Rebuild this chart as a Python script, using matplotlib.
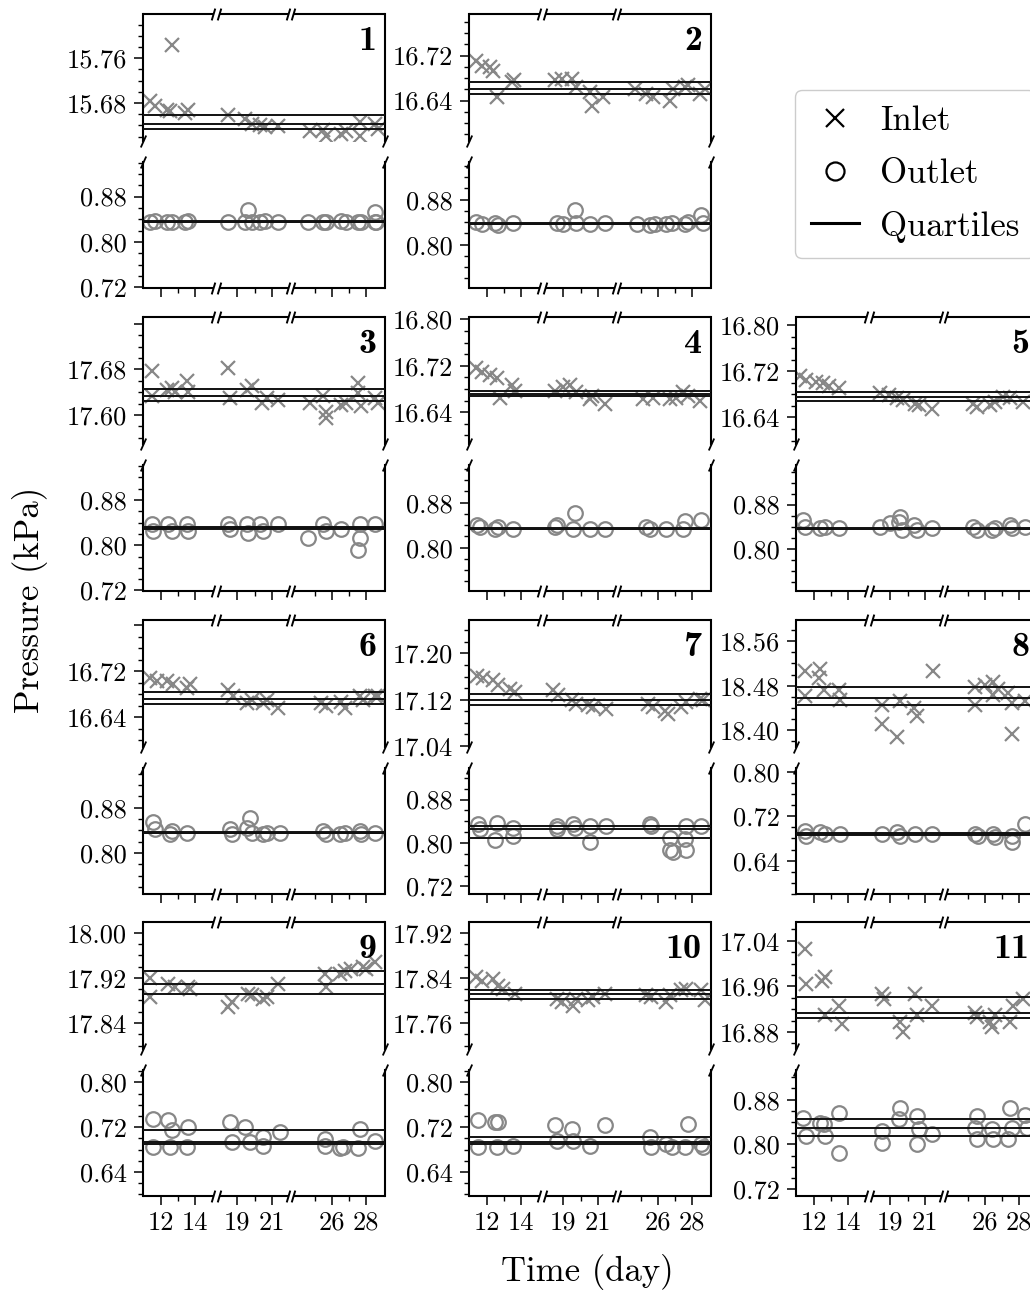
import numpy as np
import matplotlib
matplotlib.use("Agg")
import matplotlib.pyplot as plt
from matplotlib.lines import Line2D
from matplotlib.ticker import MultipleLocator, FixedLocator, FuncFormatter

plt.rcParams["font.family"] = "cmr10"
plt.rcParams["axes.formatter.use_mathtext"] = True
plt.rcParams["mathtext.fontset"] = "cm"

# ---------------------------------------------------------------------------
# Pressure readings (kPa) per sensor: day of reading and value, inlet and outlet
# ---------------------------------------------------------------------------
in_day_1 = [11.36, 11.65, 12.33, 12.52, 12.62, 13.39, 13.58, 18.47, 19.44, 19.83, 20.31, 20.6, 21.37,
            24.72, 25.49, 25.69, 26.56, 26.85, 27.62, 27.62, 28.5, 28.7]
in_kpa_1 = [15.683, 15.674, 15.668, 15.665, 15.784, 15.662, 15.668, 15.659, 15.652, 15.643, 15.641, 15.637,
            15.639, 15.630, 15.631, 15.621, 15.624, 15.630, 15.646, 15.621, 15.643, 15.634]
out_day_1 = [11.36, 11.65, 12.33, 12.62, 13.39, 13.58, 18.47, 19.44, 19.63, 19.83, 20.31, 20.6, 21.37,
             24.62, 25.49, 25.69, 26.56, 26.85, 27.52, 27.72, 28.5, 28.5, 28.6]
out_kpa_1 = [0.836, 0.837, 0.836, 0.835, 0.836, 0.837, 0.836, 0.836, 0.856, 0.835, 0.836, 0.837, 0.836,
             0.836, 0.835, 0.836, 0.837, 0.836, 0.836, 0.835, 0.836, 0.853, 0.836]

in_day_2 = [11.36, 11.7, 12.18, 12.37, 12.56, 13.43, 13.56, 18.51, 18.9, 19.48, 19.76, 20.54, 20.64, 21.31,
            24.66, 25.34, 25.73, 26.7, 26.89, 27.56, 27.76, 28.44, 28.73]
in_kpa_2 = [16.711, 16.702, 16.699, 16.693, 16.646, 16.673, 16.676, 16.676, 16.679, 16.679, 16.664, 16.655,
            16.631, 16.646, 16.661, 16.652, 16.646, 16.640, 16.661, 16.664, 16.667, 16.652, 16.661]
out_day_2 = [11.36, 11.7, 12.47, 12.66, 13.53, 18.6, 19.0, 19.67, 19.76, 20.54, 21.41, 24.76, 25.53, 25.83,
             26.5, 26.8, 27.56, 27.76, 28.54, 28.63]
out_kpa_2 = [0.840, 0.836, 0.838, 0.835, 0.838, 0.839, 0.836, 0.862, 0.838, 0.837, 0.838, 0.836, 0.835,
             0.837, 0.836, 0.838, 0.837, 0.840, 0.853, 0.838]

in_day_3 = [11.46, 11.46, 12.33, 12.62, 12.82, 13.49, 13.58, 18.47, 18.56, 19.54, 19.83, 20.41, 20.7, 21.37,
            24.72, 25.49, 25.69, 25.69, 26.56, 26.85, 27.52, 27.52, 27.72, 28.5, 28.7]
in_kpa_3 = [17.677, 17.633, 17.644, 17.647, 17.641, 17.659, 17.641, 17.683, 17.630, 17.644, 17.650, 17.621,
            17.630, 17.627, 17.621, 17.633, 17.606, 17.594, 17.618, 17.621, 17.656, 17.638, 17.615, 17.630,
            17.621]
out_day_3 = [11.46, 11.55, 12.43, 12.62, 13.49, 13.58, 18.47, 18.56, 19.54, 19.63, 20.31, 20.5, 21.37,
             24.62, 25.49, 25.69, 26.56, 27.62, 27.62, 27.52, 28.5]
out_kpa_3 = [0.838, 0.825, 0.838, 0.825, 0.838, 0.825, 0.838, 0.828, 0.838, 0.822, 0.838, 0.825, 0.838,
             0.813, 0.838, 0.826, 0.828, 0.838, 0.812, 0.792, 0.838]

in_day_4 = [11.36, 11.7, 12.18, 12.56, 12.76, 13.43, 13.62, 18.51, 19.0, 19.38, 19.76, 20.54, 20.64, 21.41,
            25.14, 25.73, 26.7, 27.08, 27.46, 27.76, 28.44]
in_kpa_4 = [16.716, 16.710, 16.704, 16.698, 16.665, 16.686, 16.677, 16.677, 16.683, 16.686, 16.674, 16.663,
            16.668, 16.654, 16.663, 16.665, 16.663, 16.665, 16.674, 16.668, 16.660]
out_day_4 = [11.44, 11.6, 12.47, 12.66, 13.53, 18.51, 18.6, 19.57, 19.67, 20.54, 21.41, 25.34, 25.53, 26.5,
             27.46, 27.56, 28.54]
out_kpa_4 = [0.841, 0.836, 0.833, 0.836, 0.833, 0.836, 0.841, 0.833, 0.861, 0.833, 0.833, 0.836, 0.833,
             0.833, 0.833, 0.847, 0.850]

in_day_5 = [11.19, 11.56, 12.14, 12.52, 12.86, 13.43, 18.41, 18.9, 19.38, 19.76, 20.45, 20.64, 21.41,
            25.34, 25.53, 26.3, 26.6, 27.08, 27.46, 28.24]
in_kpa_5 = [16.711, 16.705, 16.702, 16.699, 16.694, 16.691, 16.682, 16.679, 16.673, 16.670, 16.664, 16.661,
            16.655, 16.664, 16.658, 16.661, 16.667, 16.676, 16.673, 16.667]
out_day_5 = [11.36, 11.46, 12.37, 12.66, 13.43, 18.41, 19.0, 19.48, 19.57, 19.67, 20.35, 20.54, 21.41,
             25.34, 25.53, 26.4, 26.6, 27.46, 27.56, 28.34]
out_kpa_5 = [0.852, 0.840, 0.837, 0.840, 0.837, 0.840, 0.846, 0.849, 0.858, 0.834, 0.843, 0.834, 0.837,
             0.840, 0.834, 0.834, 0.837, 0.843, 0.837, 0.840]

in_day_6 = [11.36, 11.75, 12.33, 12.72, 13.49, 13.68, 18.47, 18.76, 19.54, 19.83, 20.5, 20.7, 21.37,
            25.4, 25.69, 26.56, 26.75, 27.62, 27.82, 28.5, 28.7]
in_kpa_6 = [16.708, 16.702, 16.702, 16.697, 16.691, 16.697, 16.688, 16.676, 16.665, 16.670, 16.665, 16.670,
            16.656, 16.665, 16.659, 16.667, 16.656, 16.676, 16.670, 16.676, 16.676]
out_day_6 = [11.55, 11.65, 12.52, 12.62, 13.49, 18.56, 18.66, 19.54, 19.73, 19.83, 20.5, 20.7, 21.47,
             25.49, 25.69, 26.46, 26.75, 27.62, 27.72, 28.5]
out_kpa_6 = [0.854, 0.842, 0.833, 0.839, 0.836, 0.842, 0.833, 0.845, 0.862, 0.836, 0.833, 0.836, 0.836,
             0.839, 0.833, 0.833, 0.836, 0.839, 0.833, 0.836]

in_day_7 = [11.4, 11.79, 12.37, 12.66, 13.34, 13.62, 18.41, 18.7, 19.48, 19.76, 20.45, 20.74, 21.51,
            25.43, 25.73, 26.4, 26.6, 27.37, 27.66, 28.44, 28.63]
in_kpa_7 = [17.161, 17.157, 17.154, 17.145, 17.139, 17.133, 17.136, 17.128, 17.119, 17.113, 17.110, 17.107,
            17.104, 17.113, 17.107, 17.101, 17.096, 17.107, 17.116, 17.122, 17.119]
out_day_7 = [11.5, 11.6, 12.56, 12.47, 13.53, 13.53, 18.6, 18.6, 19.57, 19.67, 20.54, 20.54, 21.51,
             25.53, 25.63, 26.7, 26.7, 26.89, 27.66, 27.66, 27.56, 28.54]
out_kpa_7 = [0.834, 0.825, 0.837, 0.805, 0.828, 0.813, 0.831, 0.825, 0.834, 0.828, 0.831, 0.802, 0.831,
             0.834, 0.831, 0.810, 0.787, 0.784, 0.831, 0.787, 0.808, 0.831]

in_day_8 = [11.46, 11.46, 12.37, 12.27, 12.56, 13.43, 13.53, 18.51, 18.51, 19.38, 19.57, 20.35, 20.54,
            21.51, 25.43, 25.43, 26.01, 26.5, 26.5, 26.79, 27.37, 27.56, 27.56, 28.34]
in_kpa_8 = [18.507, 18.461, 18.510, 18.493, 18.472, 18.472, 18.455, 18.446, 18.411, 18.388, 18.452, 18.440,
            18.426, 18.507, 18.478, 18.446, 18.481, 18.487, 18.464, 18.475, 18.467, 18.449, 18.394, 18.452]
out_day_8 = [11.46, 11.56, 12.37, 12.66, 13.53, 18.51, 19.38, 19.57, 20.45, 21.41, 25.43, 25.63, 26.5,
             26.6, 27.56, 27.56, 28.34]
out_kpa_8 = [0.694, 0.685, 0.691, 0.688, 0.688, 0.688, 0.691, 0.685, 0.688, 0.688, 0.688, 0.685, 0.688,
             0.682, 0.685, 0.674, 0.706]

in_day_9 = [11.36, 11.36, 12.43, 12.82, 13.58, 13.68, 18.47, 18.66, 19.63, 19.83, 20.5, 20.7, 21.37,
            25.59, 25.69, 26.46, 26.75, 27.14, 27.82, 28.01, 28.5]
in_kpa_9 = [17.919, 17.886, 17.909, 17.904, 17.904, 17.901, 17.868, 17.877, 17.892, 17.889, 17.883, 17.886,
            17.909, 17.927, 17.904, 17.927, 17.933, 17.936, 17.939, 17.936, 17.948]
out_day_9 = [11.55, 11.55, 12.43, 12.62, 12.52, 13.58, 13.49, 18.56, 18.66, 19.44, 19.73, 20.5, 20.5,
             21.47, 25.59, 25.59, 26.46, 26.66, 27.62, 27.52, 28.5]
out_kpa_9 = [0.735, 0.685, 0.732, 0.714, 0.685, 0.720, 0.685, 0.729, 0.693, 0.720, 0.693, 0.702, 0.687,
             0.711, 0.699, 0.687, 0.682, 0.685, 0.717, 0.682, 0.696]

in_day_10 = [11.36, 11.7, 12.37, 12.66, 12.95, 13.62, 18.6, 18.9, 19.57, 19.76, 20.45, 20.74, 21.41,
             25.34, 25.63, 26.5, 26.7, 27.37, 27.66, 28.54, 28.73]
in_kpa_10 = [17.841, 17.835, 17.838, 17.826, 17.821, 17.812, 17.803, 17.797, 17.791, 17.803, 17.800, 17.806,
             17.812, 17.809, 17.806, 17.797, 17.809, 17.818, 17.821, 17.818, 17.800]
out_day_10 = [11.5, 11.5, 12.47, 12.66, 12.56, 13.53, 18.51, 18.6, 19.48, 19.57, 20.54, 21.41, 25.53,
              25.63, 26.5, 26.8, 27.76, 27.56, 28.54, 28.63]
out_kpa_10 = [0.733, 0.685, 0.729, 0.729, 0.685, 0.687, 0.723, 0.696, 0.717, 0.696, 0.687, 0.723, 0.702,
              0.685, 0.690, 0.685, 0.726, 0.685, 0.690, 0.685]

in_day_11 = [11.46, 11.56, 12.47, 12.66, 12.66, 13.43, 13.62, 18.51, 18.6, 19.57, 19.76, 20.45, 20.54,
             21.41, 25.43, 25.53, 26.3, 26.4, 26.6, 27.46, 27.66, 28.24]
in_kpa_11 = [17.025, 16.964, 16.970, 16.976, 16.909, 16.926, 16.894, 16.947, 16.938, 16.897, 16.879, 16.947,
             16.909, 16.926, 16.914, 16.906, 16.897, 16.888, 16.909, 16.897, 16.926, 16.938]
out_day_11 = [11.36, 11.56, 12.37, 12.56, 12.66, 13.43, 13.43, 18.51, 18.51, 19.57, 19.48, 20.54, 20.64,
              20.54, 21.41, 25.53, 25.43, 25.53, 26.4, 26.5, 27.46, 27.56, 27.37, 28.34, 28.44]
out_kpa_11 = [0.847, 0.815, 0.839, 0.836, 0.815, 0.856, 0.785, 0.824, 0.803, 0.865, 0.845, 0.850, 0.827,
              0.800, 0.818, 0.850, 0.830, 0.809, 0.827, 0.809, 0.865, 0.830, 0.809, 0.853, 0.830]

# Quartiles (Q1, median, Q3) of each sensor's readings
in_quart = [(15.634, 15.643, 15.659), (16.651, 16.660, 16.673), (17.624, 17.634, 17.646),
            (16.667, 16.671, 16.676), (16.669, 16.675, 16.684), (16.663, 16.672, 16.684),
            (17.110, 17.119, 17.129), (18.445, 18.458, 18.477), (17.892, 17.909, 17.933),
            (17.803, 17.812, 17.819), (16.904, 16.914, 16.941)]
out_quart = [(0.835, 0.836, 0.837), (0.836, 0.837, 0.839), (0.829, 0.831, 0.833),
             (0.833, 0.834, 0.835), (0.835, 0.8365, 0.838), (0.835, 0.836, 0.837),
             (0.810, 0.825, 0.831), (0.687, 0.688, 0.689), (0.689, 0.694, 0.715),
             (0.690, 0.693, 0.703), (0.815, 0.830, 0.845)]

# Axis ranges and labelled pressure ticks for each sensor
in_ylim = [(15.612, 15.839), (16.568, 16.794), (17.549, 17.772), (16.585, 16.804), (16.594, 16.814),
           (16.588, 16.809), (17.038, 17.258), (18.370, 18.598), (17.794, 18.019), (17.714, 17.939),
           (16.850, 17.073)]
out_ylim = [(0.719, 0.941), (0.723, 0.947), (0.719, 0.942), (0.723, 0.947), (0.723, 0.952),
            (0.728, 0.950), (0.706, 0.938), (0.580, 0.807), (0.597, 0.822), (0.597, 0.822),
            (0.708, 0.933)]
in_labels = [(15.68, 15.76), (16.64, 16.72), (17.60, 17.68), (16.64, 16.72, 16.80), (16.64, 16.72, 16.80),
             (16.64, 16.72), (17.04, 17.12, 17.20), (18.40, 18.48, 18.56), (17.84, 17.92, 18.00),
             (17.76, 17.84, 17.92), (16.88, 16.96, 17.04)]
out_labels = [(0.72, 0.80, 0.88), (0.80, 0.88), (0.72, 0.80, 0.88), (0.80, 0.88), (0.80, 0.88),
              (0.80, 0.88), (0.72, 0.80, 0.88), (0.64, 0.72, 0.80), (0.64, 0.72, 0.80),
              (0.64, 0.72, 0.80), (0.72, 0.80, 0.88)]

# Measurement campaigns (day ranges shown) and day ticks
segments = [(10.95, 15.2), (17.75, 22.1), (23.6, 29.1)]
day_ticks = [12, 14, 19, 21, 26, 28]
day_minor = [13, 20, 25, 27]

panel_names = ["1", "2", "3", "4", "5", "6", "7", "8", "9", "10", "11"]

# ---------------------------------------------------------------------------
W, H = 1030, 1292
fig = plt.figure(figsize=(W / 100, H / 100), dpi=100)

GREY = "#878787"
SPINE_LW = 1.5
COL_LEFT = [143, 469, 796]
ROW_TOP = [14, 317, 620, 922]
AX_W = 242
UP_H, GAP_H, LO_H = 127, 21, 126
GRID = [(0, 0), (0, 1), (1, 0), (1, 1), (1, 2), (2, 0), (2, 1), (2, 2), (3, 0), (3, 1), (3, 2)]

# piecewise-linear day axis that skips the days between campaigns
_eps = 1e-6
_kd, _kp = [segments[0][0] - 1000.0], [-1000.0]
_pos = 0.0
for _i, (_a, _b) in enumerate(segments):
    _kd.append(_a)
    _kp.append(_pos + (_eps if _i else 0.0))
    _pos += _b - _a
    _kd.append(_b)
    _kp.append(_pos)
_kd.append(segments[-1][1] + 1000.0)
_kp.append(_pos + 1000.0)
_kd, _kp = np.array(_kd), np.array(_kp)


def day_fwd(x):
    return np.interp(x, _kd, _kp)


def day_inv(y):
    return np.interp(y, _kp, _kd)


SLASH_X = [(-0.3, -1.0), (0.3, 1.0)]
SLASH_Y = [(-0.45, -1.0), (0.45, 1.0)]
BREAK_GAP = 0.15


def add_axes_px(left, top, width, height):
    return fig.add_axes([left / W, 1 - (top + height) / H, width / W, height / H])


def broken_spine(ax, y):
    tr = ax.get_xaxis_transform()
    n = len(segments)
    for i, (a, b) in enumerate(segments):
        start = a if i == 0 else a + BREAK_GAP
        end = b if i == n - 1 else b - BREAK_GAP
        ax.plot([start, end], [y, y], transform=tr, color="k", lw=SPINE_LW,
                clip_on=False, solid_capstyle="butt", zorder=6)
        for xb, show in ((start, i > 0), (end, i < n - 1)):
            if show:
                ax.plot([xb], [y], transform=tr, marker=SLASH_X, ms=8.5, mec="k", mew=1.4,
                        ls="none", clip_on=False, zorder=7)


def y_break(ax, y):
    ax.plot([0, 1], [y, y], transform=ax.transAxes, marker=SLASH_Y, ms=8.6, mec="k",
            mew=1.3, ls="none", clip_on=False, zorder=7)


def style_half(ax, ylim, labels):
    ax.set_xscale("function", functions=(day_fwd, day_inv))
    ax.set_xlim(segments[0][0], segments[-1][1])
    ax.set_ylim(*ylim)
    ax.yaxis.set_major_locator(MultipleLocator(0.08))
    ax.yaxis.set_minor_locator(MultipleLocator(0.02))
    ax.yaxis.set_major_formatter(FuncFormatter(
        lambda v, p, labs=labels: f"{v:.2f}" if any(abs(v - l) < 1e-6 for l in labs) else ""))
    ax.tick_params(axis="y", which="major", direction="out", length=6.7, width=1.1,
                   labelsize=19, pad=5)
    ax.tick_params(axis="y", which="minor", direction="out", length=3.6, width=1.0)
    ax.tick_params(axis="y", right=False)
    for s in ("left", "right"):
        ax.spines[s].set_linewidth(SPINE_LW)
    ax.spines["top"].set_visible(False)
    ax.spines["bottom"].set_visible(False)
    ax.xaxis.set_major_locator(FixedLocator(day_ticks))
    ax.xaxis.set_minor_locator(FixedLocator(day_minor))
    ax.xaxis.set_major_formatter(FuncFormatter(lambda v, p: f"{v:.0f}"))
    ax.set_facecolor("none")


for k, (r, c) in enumerate(GRID):
    n = k + 1
    in_day, in_kpa = globals()[f"in_day_{n}"], globals()[f"in_kpa_{n}"]
    out_day, out_kpa = globals()[f"out_day_{n}"], globals()[f"out_kpa_{n}"]

    left, top = COL_LEFT[c], ROW_TOP[r]
    ax_in = add_axes_px(left, top, AX_W, UP_H)
    ax_out = add_axes_px(left, top + UP_H + GAP_H, AX_W, LO_H)

    style_half(ax_in, in_ylim[k], in_labels[k])
    style_half(ax_out, out_ylim[k], out_labels[k])

    ax_in.plot(in_day, in_kpa, ls="none", marker="x", ms=10.5, mew=1.6, color=GREY, zorder=2)
    ax_out.plot(out_day, out_kpa, ls="none", marker="o", ms=10.5, mew=1.6, mfc="none",
                mec=GREY, zorder=2)
    for q in in_quart[k]:
        ax_in.axhline(q, color="#111111", lw=1.4, zorder=3)
    for q in out_quart[k]:
        ax_out.axhline(q, color="#111111", lw=1.4, zorder=3)

    ax_in.tick_params(axis="x", which="both", bottom=False, top=False, labelbottom=False)
    ax_out.tick_params(axis="x", which="major", direction="out", length=6.7, width=1.1,
                       labelsize=19, pad=4, top=False, labelbottom=(r == 3))
    ax_out.tick_params(axis="x", which="minor", direction="out", length=3.6, width=1.0,
                       top=False)

    broken_spine(ax_in, 1.0)
    broken_spine(ax_out, 0.0)
    y_break(ax_in, 0.0)
    y_break(ax_out, 1.0)

    ax_in.text(0.963, 0.905, panel_names[k], transform=ax_in.transAxes, ha="right", va="top",
               fontsize=26, family="cmb10", zorder=8)

fig.text(30 / W, 1 - 600 / H, "Pressure (kPa)", rotation=90, ha="center", va="center",
         fontsize=25)
fig.text(587 / W, 1 - 1272 / H, "Time (day)", ha="center", va="center", fontsize=25)

handles = [
    Line2D([], [], ls="none", marker="x", ms=13, mew=1.6, color="k"),
    Line2D([], [], ls="none", marker="o", ms=13, mew=1.6, mfc="none", mec="k"),
    Line2D([], [], color="k", lw=2.2),
]
leg = fig.legend(handles, ["Inlet", "Outlet", "Quartiles"], loc="upper left",
                 bbox_to_anchor=(795 / W, 1 - 90 / H), bbox_transform=fig.transFigure,
                 borderaxespad=0, fontsize=25, frameon=True, fancybox=True, framealpha=1,
                 edgecolor="#cccccc", borderpad=0.45, handlelength=1.4, handletextpad=0.6,
                 labelspacing=0.6)
leg.get_frame().set_linewidth(1.0)

fig.savefig("out.png", dpi=100)
